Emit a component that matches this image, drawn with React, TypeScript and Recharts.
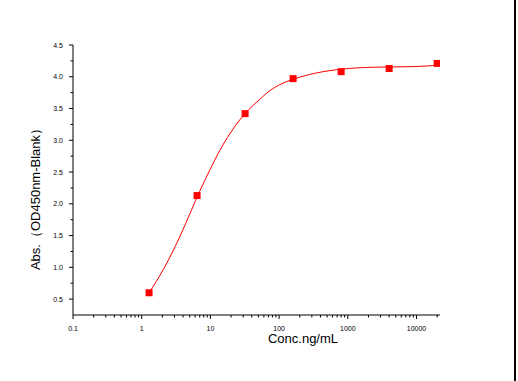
import React from 'react';
import { ComposedChart, Line, Scatter, XAxis, YAxis, Label } from 'recharts';

// measured points (concentration ng/mL, absorbance)
const concentrations = [1.28, 6.4, 32, 160, 800, 4000, 20000];
const absorbances = [0.6, 2.13, 3.42, 3.97, 4.08, 4.13, 4.21];

// fitted curve
const curveX = [1.28, 2.05, 3.58, 5.3, 7.0, 9.8, 13.7, 19.1, 26.7, 36, 49.4, 73.2, 114, 160, 350, 811, 2340, 8930, 20000];
const curveY = [0.6, 0.96, 1.48, 1.9, 2.2, 2.53, 2.84, 3.1, 3.32, 3.48, 3.62, 3.78, 3.9, 3.96, 4.06, 4.12, 4.15, 4.16, 4.18];

const xMajorTicks = [0.1, 1, 10, 100, 1000, 10000];
const xMajorLabels = ['0.1', '1', '10', '100', '1000', '10000'];
const yMajorTicks = [0.5, 1.0, 1.5, 2.0, 2.5, 3.0, 3.5, 4.0, 4.5];
const yMajorLabels = ['0.5', '1.0', '1.5', '2.0', '2.5', '3.0', '3.5', '4.0', '4.5'];
const yMinorTicks = [0.75, 1.25, 1.75, 2.25, 2.75, 3.25, 3.75, 4.25];

const xMinorTicks: number[] = [];
xMajorTicks.forEach((d) => {
  for (let k = 2; k <= 9; k++) {
    const v = parseFloat((d * k).toPrecision(6));
    if (v <= 22000) xMinorTicks.push(v);
  }
});

const points = concentrations.map((x, i) => ({ x, y: absorbances[i] }));
const curve = curveX.map((x, i) => ({ x, y: curveY[i] }));

const allXTicks = [...xMajorTicks, ...xMinorTicks].sort((a, b) => a - b);
const allYTicks = [...yMajorTicks, ...yMinorTicks].sort((a, b) => a - b);

const FONT = '"Liberation Sans", Arial, sans-serif';

const XTick = (props: any) => {
  const { x, y, payload } = props;
  const idx = xMajorTicks.findIndex((t) => Math.abs(t - payload.value) < 1e-9);
  const major = idx >= 0;
  return (
    <g>
      <line x1={x} x2={x} y1={y} y2={y + (major ? 4 : 2.5)} stroke="#000" strokeWidth={1} />
      {major && (
        <text x={x} y={y + 16} textAnchor="middle" fontSize={7} fontFamily={FONT} fill="#000">
          {xMajorLabels[idx]}
        </text>
      )}
    </g>
  );
};

const YTick = (props: any) => {
  const { x, y, payload } = props;
  const idx = yMajorTicks.findIndex((t) => Math.abs(t - payload.value) < 1e-9);
  const major = idx >= 0;
  return (
    <g>
      <line x1={x} x2={x - (major ? 4 : 2.5)} y1={y} y2={y} stroke="#000" strokeWidth={1} />
      {major && (
        <text x={x - 10} y={y + 2.5} textAnchor="end" fontSize={7} fontFamily={FONT} fill="#000">
          {yMajorLabels[idx]}
        </text>
      )}
    </g>
  );
};

const SquareDot = (props: any) => {
  const { cx, cy } = props;
  return <rect x={cx - 3.5} y={cy - 3.5} width={7} height={7} fill="#ff0000" />;
};

export default function App() {
  return (
    <div style={{ position: 'absolute', left: 0, top: 0, width: 518, height: 381, background: '#fff' }}>
      <ComposedChart
        width={518}
        height={381}
        margin={{ top: 45, right: 78, bottom: 0, left: 0 }}
      >
        <XAxis
          dataKey="x"
          type="number"
          scale="log"
          domain={[0.1, 22000]}
          ticks={allXTicks}
          interval={0}
          allowDataOverflow
          tickSize={0}
          tickMargin={0}
          tickLine={false}
          tick={<XTick />}
          height={66}
          axisLine={{ stroke: '#000', strokeWidth: 1 }}
        >
          <Label
            content={() => (
              <text x={303} y={343} textAnchor="middle" fontSize={13} fontFamily={FONT} fill="#000">
                Conc.ng/mL
              </text>
            )}
          />
        </XAxis>
        <YAxis
          dataKey="y"
          type="number"
          domain={[0.25, 4.5]}
          ticks={allYTicks}
          interval={0}
          allowDataOverflow
          tickSize={0}
          tickMargin={0}
          tickLine={false}
          tick={<YTick />}
          width={73}
          axisLine={{ stroke: '#000', strokeWidth: 1 }}
        >
          <Label
            content={() => (
              <text
                x={40}
                y={196}
                transform="rotate(-90 40 196)"
                textAnchor="middle"
                fontSize={13}
                fontFamily={FONT}
                fill="#000"
              >
                Abs.（OD450nm-Blank）
              </text>
            )}
          />
        </YAxis>
        <Line
          data={curve}
          dataKey="y"
          type="monotone"
          stroke="#ff0000"
          strokeWidth={1}
          dot={false}
          activeDot={false}
          isAnimationActive={false}
        />
        <Scatter data={points} dataKey="y" shape={<SquareDot />} isAnimationActive={false} />
      </ComposedChart>
      <div style={{ position: 'absolute', left: 514, top: 0, width: 2, height: 381, background: '#000' }} />
    </div>
  );
}
